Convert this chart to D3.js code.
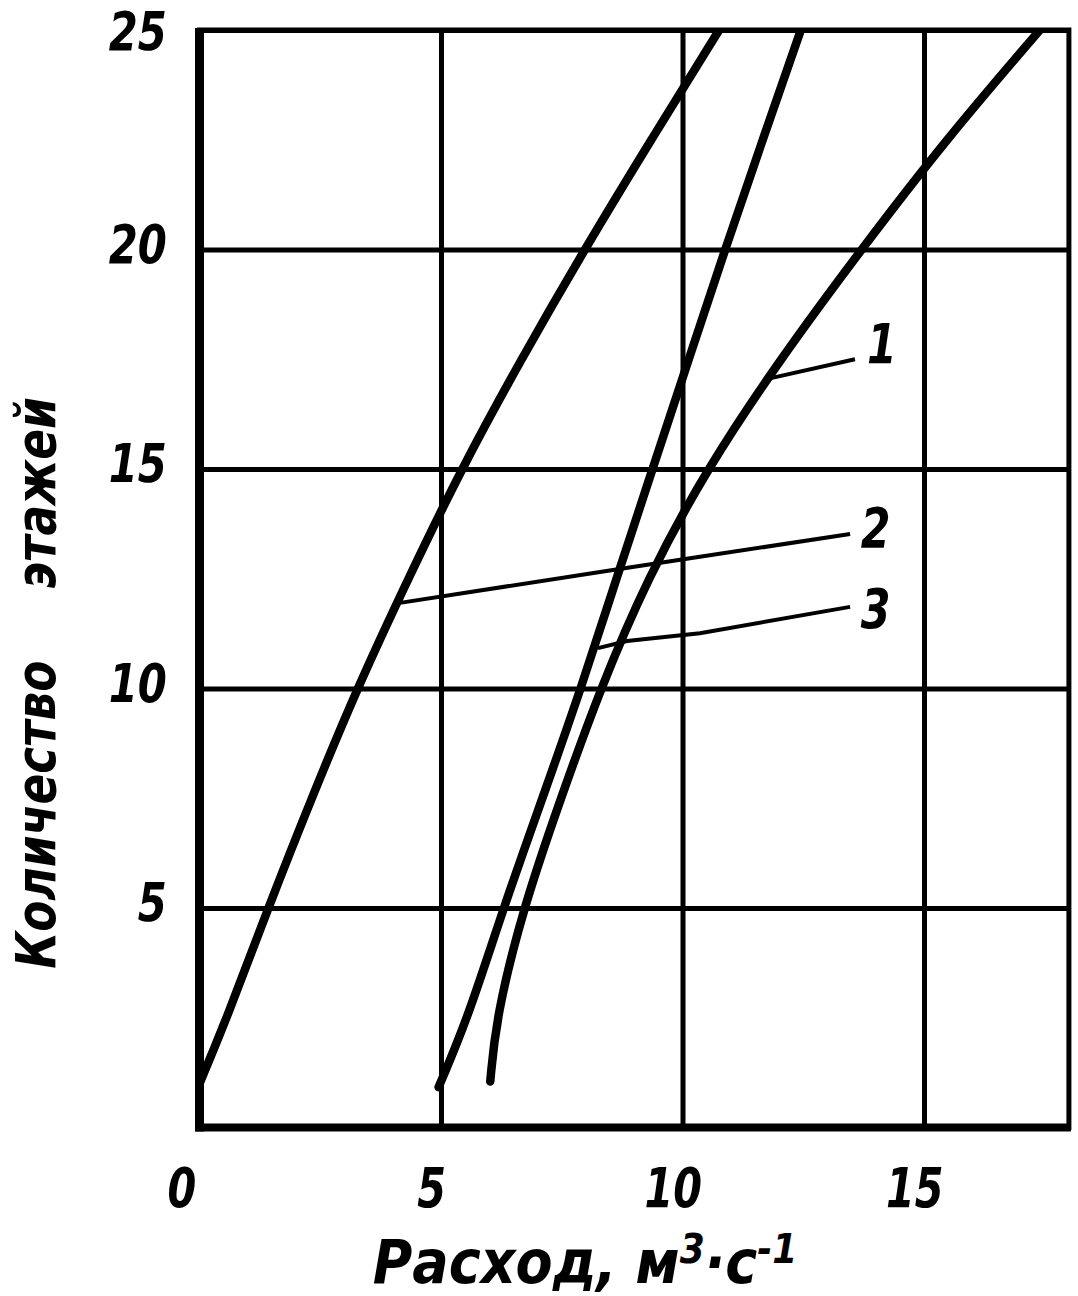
<!DOCTYPE html>
<html>
<head>
<meta charset="utf-8">
<script src="https://cdn.jsdelivr.net/npm/d3@7"></script>
<style>
  body { margin: 0; background: #fff; }
  text { font-family: "Liberation Sans Narrow", "DejaVu Sans Condensed", "Liberation Sans", sans-serif;
         font-style: italic; font-weight: bold; fill: #000; }
</style>
</head>
<body>
<div id="chart"></div>
<script>
// tick values
const xTicks = [0, 5, 10, 15];
const yTicks = [5, 10, 15, 20, 25];

// curve 1 (right)
const floors1 = [1.05, 2.5, 5, 7.5, 10, 12.5, 15, 17.5, 20, 22.5, 25];
const flow1   = [6.02, 6.14, 6.70, 7.48, 8.30, 9.27, 10.50, 12.02, 13.70, 15.45, 17.4];
// curve 2 (left)
const floors2 = [1.0, 2.5, 5, 7.5, 10, 12.5, 15, 17.5, 20, 22.5, 25];
const flow2   = [0.0, 0.57, 1.42, 2.32, 3.26, 4.32, 5.42, 6.66, 7.97, 9.35, 10.76];
// curve 3 (middle)
const floors3 = [0.92, 2.5, 5, 7.5, 10, 12.5, 15, 17.5, 20, 22.5, 25];
const flow3   = [4.95, 5.56, 6.29, 7.10, 7.90, 8.63, 9.38, 10.13, 10.88, 11.66, 12.45];

// leader lines for the curve numbers
const leaderNames = ["1", "2", "3"];
const leaderX = [[11.83, 13.57], [4.15, 8.56, 10.36, 13.47], [8.25, 8.85, 10.36, 13.47]];
const leaderY = [[17.07, 17.5], [11.95, 12.7, 13.0, 13.52], [10.92, 11.08, 11.26, 11.86]];
const labelX = [14.13, 14.0, 14.0];
const labelY = [17.87, 13.68, 11.83];

const width = 1078, height = 1296;

const svg = d3.select("#chart").append("svg")
    .attr("width", width)
    .attr("height", height);

const x = d3.scaleLinear().domain([0, 18]).range([199.5, 1068.9]);
const y = d3.scaleLinear().domain([0, 25]).range([1127.5, 30]);

// grid + tick labels from the axes
const gx = svg.append("g")
    .attr("transform", `translate(0,${y(0)})`)
    .call(d3.axisBottom(x).tickValues(xTicks).tickSize(-(y(0) - y(25))).tickPadding(40));
gx.select(".domain").remove();
gx.selectAll("line").attr("stroke", "#000").attr("stroke-width", 5);
gx.selectAll("text")
    .attr("font-size", 56)
    .attr("dx", d => d === 0 ? -22 : -12)
    .attr("transform", "scale(0.82,1)");

const gy = svg.append("g")
    .attr("transform", `translate(${x(0)},0)`)
    .call(d3.axisLeft(y).tickValues(yTicks).tickSize(-(x(18) - x(0))).tickPadding(38));
gy.select(".domain").remove();
gy.selectAll("line").attr("stroke", "#000").attr("stroke-width", 5);
gy.selectAll("text")
    .attr("font-size", 54)
    .attr("dy", d => d === 25 ? "0.36em" : "0.24em")
    .attr("transform", "scale(0.86,1)");

// frame
svg.append("rect")
    .attr("x", x(0)).attr("y", y(25))
    .attr("width", x(18) - x(0)).attr("height", y(0) - y(25))
    .attr("fill", "none").attr("stroke", "#000").attr("stroke-width", 5);
svg.append("line")
    .attr("x1", x(0)).attr("x2", x(0)).attr("y1", y(25) - 2).attr("y2", y(0) + 4)
    .attr("stroke", "#000").attr("stroke-width", 9);
svg.append("line")
    .attr("x1", x(0) - 4).attr("x2", x(18) + 2).attr("y1", y(0)).attr("y2", y(0))
    .attr("stroke", "#000").attr("stroke-width", 8);

svg.append("clipPath").attr("id", "plot")
  .append("rect")
    .attr("x", x(0)).attr("y", y(25))
    .attr("width", x(18) - x(0)).attr("height", y(0) - y(25));

// curves
const line = d3.line()
    .x(d => x(d[0]))
    .y(d => y(d[1]))
    .curve(d3.curveBasis);

const curves = [
  d3.zip(flow1, floors1),
  d3.zip(flow2, floors2),
  d3.zip(flow3, floors3)
];

svg.append("g")
    .attr("clip-path", "url(#plot)")
  .selectAll("path")
  .data(curves)
  .join("path")
    .attr("d", line)
    .attr("fill", "none")
    .attr("stroke", "#000")
    .attr("stroke-width", 8.5)
    .attr("stroke-linecap", "round");

// leaders and numbers
const leader = d3.line().x(d => x(d[0])).y(d => y(d[1]));
svg.append("g")
  .selectAll("path")
  .data(leaderX.map((xs, i) => d3.zip(xs, leaderY[i])))
  .join("path")
    .attr("d", leader)
    .attr("fill", "none")
    .attr("stroke", "#000")
    .attr("stroke-width", 4);

svg.append("g")
  .selectAll("text")
  .data(leaderNames)
  .join("text")
    .attr("transform", (d, i) => `translate(${x(labelX[i])},${y(labelY[i])}) scale(0.85,1)`)
    .attr("dy", "0.36em")
    .attr("text-anchor", "middle")
    .attr("font-size", 56)
    .attr("font-weight", "normal")
    .text(d => d);

// axis titles
const xt = svg.append("text")
    .attr("x", 585)
    .attr("y", 1283)
    .attr("text-anchor", "middle")
    .attr("font-size", 60);
xt.append("tspan").text("Расход,  м");
xt.append("tspan").attr("dy", -20).attr("font-size", 40).text("3");
xt.append("tspan").attr("dy", 20).text("·с");
xt.append("tspan").attr("dy", -20).attr("font-size", 40).text("-1");

const yt = svg.append("text")
    .attr("transform", "translate(55,683) rotate(-90) scale(0.9,1)")
    .attr("text-anchor", "middle")
    .attr("font-size", 56);
yt.append("tspan").text("Количество");
yt.append("tspan").attr("dx", 80).text("этажей");
</script>
</body>
</html>
